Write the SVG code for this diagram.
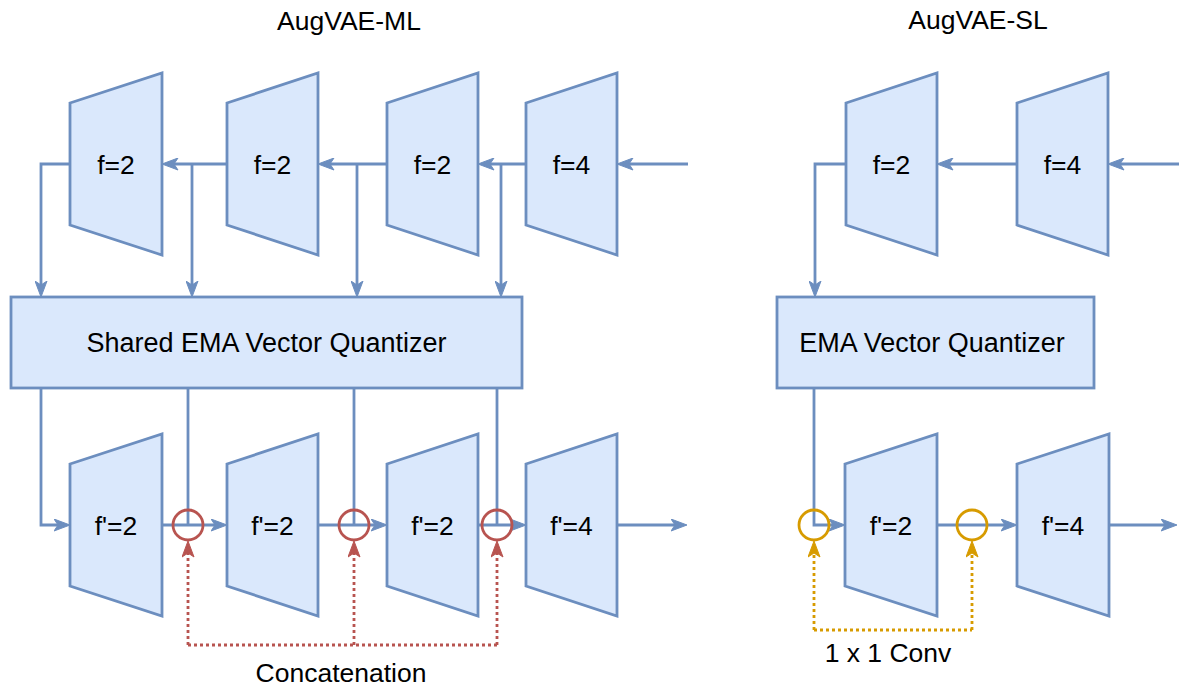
<svg xmlns="http://www.w3.org/2000/svg" width="1179" height="687" viewBox="0 0 1179 687">
<style>
.blk{fill:#dae8fc;stroke:#6c8ebf;stroke-width:2.8;stroke-linejoin:miter}
.t{font-family:"Liberation Sans",Arial,sans-serif;font-size:26.5px;fill:#000;text-anchor:middle}
.c{fill:none;stroke:#6c8ebf;stroke-width:2.8}
.ca{fill:none;stroke:#6c8ebf;stroke-width:2.8;marker-end:url(#ab)}
.rd{fill:none;stroke:#b85450;stroke-width:2.8;stroke-dasharray:3 3}
.rda{fill:none;stroke:#b85450;stroke-width:2.8;stroke-dasharray:3 3;marker-end:url(#ar)}
.yd{fill:none;stroke:#d79b00;stroke-width:2.8;stroke-dasharray:3 3}
.yda{fill:none;stroke:#d79b00;stroke-width:2.8;stroke-dasharray:3 3;marker-end:url(#ay)}
.rc{fill:none;stroke:#b85450;stroke-width:2.8}
.yc{fill:none;stroke:#d79b00;stroke-width:2.8}
</style>
<defs>
<marker id="ab" markerUnits="userSpaceOnUse" markerWidth="17" markerHeight="13" viewBox="0 0 17 13" refX="4.5" refY="6.5" orient="auto"><path d="M0.5,0.5 L16.5,6.5 L0.5,12.5 L4.5,6.5 Z" fill="#6c8ebf" stroke="#6c8ebf" stroke-width="1"/></marker>
<marker id="ar" markerUnits="userSpaceOnUse" markerWidth="17" markerHeight="13" viewBox="0 0 17 13" refX="4.5" refY="6.5" orient="auto"><path d="M0.5,0.5 L16.5,6.5 L0.5,12.5 L4.5,6.5 Z" fill="#b85450" stroke="#b85450" stroke-width="1"/></marker>
<marker id="ay" markerUnits="userSpaceOnUse" markerWidth="17" markerHeight="13" viewBox="0 0 17 13" refX="4.5" refY="6.5" orient="auto"><path d="M0.5,0.5 L16.5,6.5 L0.5,12.5 L4.5,6.5 Z" fill="#d79b00" stroke="#d79b00" stroke-width="1"/></marker>
</defs>
<rect width="1179" height="687" fill="#fff"/>

<g id="titles">
<text class="t" x="349" y="30">AugVAE-ML</text>
<text class="t" x="978" y="29">AugVAE-SL</text>
</g>

<g id="connectors">
<!-- ML encoder -->
<path class="ca" d="M688,164 H629"/>
<path class="ca" d="M526,164 H490"/>
<path class="ca" d="M501,164 V285"/>
<path class="ca" d="M387,164 H330"/>
<path class="ca" d="M357,164 V285"/>
<path class="ca" d="M227,164 H174"/>
<path class="ca" d="M192,164 V285"/>
<path class="ca" d="M70,164 H41 V285"/>
<!-- ML decoder -->
<path class="ca" d="M41,388 V525 H58"/>
<path class="ca" d="M162,525 H215"/>
<path class="c" d="M188,388 V525"/>
<path class="ca" d="M318,525 H375"/>
<path class="c" d="M354,388 V525"/>
<path class="ca" d="M478,525 H514"/>
<path class="c" d="M497,388 V525"/>
<path class="ca" d="M617,525 H675"/>
<!-- concatenation -->
<path class="rd" d="M188,645 H497"/>
<path class="rda" d="M188,645 V553"/>
<path class="rda" d="M354,645 V553"/>
<path class="rda" d="M497,645 V553"/>
<!-- SL encoder -->
<path class="ca" d="M1179,164 H1120"/>
<path class="ca" d="M1017,164 H949"/>
<path class="ca" d="M846,164 H815 V285"/>
<!-- SL decoder -->
<path class="ca" d="M814,388 V525 H833"/>
<path class="ca" d="M937,525 H1005"/>
<path class="ca" d="M1109,525 H1165"/>
<!-- 1x1 conv -->
<path class="yd" d="M814,630 H972"/>
<path class="yda" d="M814,630 V553"/>
<path class="yda" d="M972,630 V553"/>
</g>

<g id="ml-enc1"><path class="blk" d="M70,103 L162,73 L162,255 L70,225 Z"/><text class="t" x="116" y="173.5">f=2</text></g>
<g id="ml-enc2"><path class="blk" d="M227,103 L318,73 L318,255 L227,225 Z"/><text class="t" x="272.5" y="173.5">f=2</text></g>
<g id="ml-enc3"><path class="blk" d="M387,103 L478,73 L478,255 L387,225 Z"/><text class="t" x="432.5" y="173.5">f=2</text></g>
<g id="ml-enc4"><path class="blk" d="M526,103 L617,73 L617,255 L526,225 Z"/><text class="t" x="571.5" y="173.5">f=4</text></g>

<g id="ml-vq"><rect class="blk" x="11" y="297" width="511" height="91"/><text class="t" x="266.5" y="352" style="font-size:27px">Shared EMA Vector Quantizer</text></g>

<g id="ml-dec1"><path class="blk" d="M70,464 L162,434 L162,616 L70,586 Z"/><text class="t" x="116" y="534.5">f'=2</text></g>
<g id="ml-dec2"><path class="blk" d="M227,464 L318,434 L318,616 L227,586 Z"/><text class="t" x="272.5" y="534.5">f'=2</text></g>
<g id="ml-dec3"><path class="blk" d="M387,464 L478,434 L478,616 L387,586 Z"/><text class="t" x="432.5" y="534.5">f'=2</text></g>
<g id="ml-dec4"><path class="blk" d="M526,464 L617,434 L617,616 L526,586 Z"/><text class="t" x="571.5" y="534.5">f'=4</text></g>

<g id="ml-cat1"><circle class="rc" cx="188" cy="525" r="15"/></g>
<g id="ml-cat2"><circle class="rc" cx="354" cy="525" r="15"/></g>
<g id="ml-cat3"><circle class="rc" cx="497" cy="525" r="15"/></g>
<g id="ml-cat-label"><text class="t" x="341" y="681.5">Concatenation</text></g>

<g id="sl-enc1"><path class="blk" d="M846,103 L937,73 L937,255 L846,225 Z"/><text class="t" x="891.5" y="173.5">f=2</text></g>
<g id="sl-enc2"><path class="blk" d="M1017,103 L1108,73 L1108,255 L1017,225 Z"/><text class="t" x="1062.5" y="173.5">f=4</text></g>

<g id="sl-vq"><rect class="blk" x="777" y="297" width="317" height="91"/><text class="t" x="932" y="352" style="font-size:27px">EMA Vector Quantizer</text></g>

<g id="sl-dec1"><path class="blk" d="M845,464 L937,434 L937,616 L845,586 Z"/><text class="t" x="891" y="534.5">f'=2</text></g>
<g id="sl-dec2"><path class="blk" d="M1017,464 L1109,434 L1109,616 L1017,586 Z"/><text class="t" x="1063" y="534.5">f'=4</text></g>

<g id="sl-conv1"><circle class="yc" cx="814" cy="525" r="15"/></g>
<g id="sl-conv2"><circle class="yc" cx="972" cy="525" r="15"/></g>
<g id="sl-conv-label"><text class="t" x="888" y="662">1 x 1 Conv</text></g>
</svg>
